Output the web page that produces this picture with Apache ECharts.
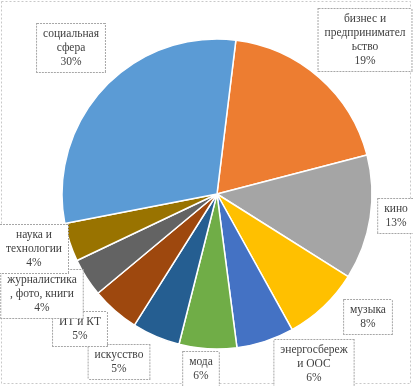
<!DOCTYPE html>
<html><head><meta charset="utf-8">
<script src="https://cdn.jsdelivr.net/npm/echarts@6/dist/echarts.min.js"></script>
<style>html,body{margin:0;padding:0;background:#fff}#c{width:413px;height:386px}</style>
</head><body><div id="c"></div>
<script>
const categories = ['бизнес и\nпредпринимател\nьство','кино','музыка','энергосбереж\nи ООС','мода','искусство','ИТ и КТ','журналистика\n, фото, книги','наука и\nтехнологии','социальная\nсфера'];
const values = [19,13,8,6,6,5,5,4,4,30];
const colors = ['#ED7D31','#A5A5A5','#FFC000','#4472C4','#70AD47','#255E91','#9E480E','#636363','#997300','#5B9BD5'];
// label centre positions (layout only)
const labelPos = [[365,40],[396,216],[368,317],[314,364],[201,369],[119,362],[80,329],[42,294],[34,249],[71,48]];
const chart = echarts.init(document.getElementById('c'));
chart.setOption({
  animation:false,
  graphic:[{type:'rect',shape:{x:1.5,y:1.5,width:409,height:382},style:{fill:'none',stroke:'#c8c8c8',lineWidth:1,lineDash:[2,2]}}],
  series:[{
    type:'pie',
    center:[217,194],
    radius:155,
    startAngle:83,
    clockwise:true,
    itemStyle:{borderColor:'#fff',borderWidth:1.5},
    labelLine:{show:false},
    label:{
      show:true,position:'inside',overflow:'none',
      formatter:p=>p.name+'\n'+p.value+'%',
      fontFamily:'Liberation Serif',fontSize:11.5,color:'#404040',lineHeight:14,
      backgroundColor:'#fff',borderColor:'#a6a6a6',borderWidth:1,borderType:[2,1],
      padding:[3,6],align:'center'
    },
    labelLayout:function(p){const q=labelPos[p.dataIndex];return {x:q[0],y:q[1],align:'center',verticalAlign:'middle'};},
    data:categories.map((n,i)=>({name:n,value:values[i],itemStyle:{color:colors[i]}}))
  }]
});
</script></body></html>
